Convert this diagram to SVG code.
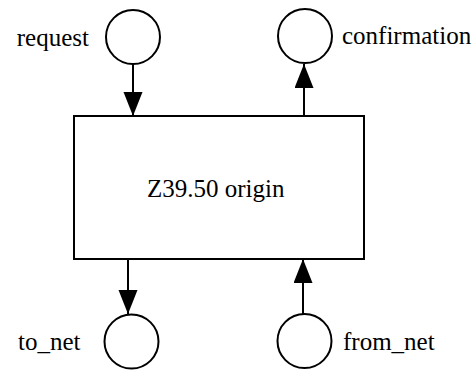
<svg xmlns="http://www.w3.org/2000/svg" width="476" height="370" viewBox="0 0 476 370">
  <style>
    .port { fill: #ffffff; stroke: #000000; stroke-width: 2; }
    .proc { fill: #ffffff; stroke: #000000; stroke-width: 2; }
    .flow { fill: none; stroke: #000000; stroke-width: 2; marker-end: url(#arrow); }
    .label { font-family: "Liberation Serif", "Times New Roman", serif; font-size: 25px; fill: #000000; }
  </style>
  <defs>
    <marker id="arrow" markerUnits="userSpaceOnUse" markerWidth="24" markerHeight="20" refX="24" refY="9.5" orient="auto">
      <path d="M0,0 L24,9.5 L0,19 Z" fill="#000000"/>
    </marker>
  </defs>
  <rect width="476" height="370" fill="#ffffff"/>

  <!-- data flows between the ports and the process -->
  <g id="connectors">
    <line class="flow" x1="133" y1="64" x2="133" y2="116"/>
    <line class="flow" x1="304" y1="116" x2="304" y2="64"/>
    <line class="flow" x1="128" y1="259" x2="128" y2="314"/>
    <line class="flow" x1="303" y1="314" x2="303" y2="259"/>
  </g>

  <g id="origin">
    <rect class="proc" x="74" y="116" width="290" height="143"/>
    <text class="label" x="147" y="197">Z39.50 origin</text>
  </g>

  <g id="request">
    <circle class="port" cx="133" cy="37" r="27"/>
    <text class="label" x="89" y="46" text-anchor="end">request</text>
  </g>

  <g id="confirmation">
    <circle class="port" cx="305" cy="36" r="27"/>
    <text class="label" x="342" y="44">confirmation</text>
  </g>

  <g id="to_net">
    <circle class="port" cx="131.5" cy="341.5" r="27"/>
    <text class="label" x="18" y="350">to_net</text>
  </g>

  <g id="from_net">
    <circle class="port" cx="304.5" cy="341" r="27"/>
    <text class="label" x="343" y="350">from_net</text>
  </g>
</svg>
